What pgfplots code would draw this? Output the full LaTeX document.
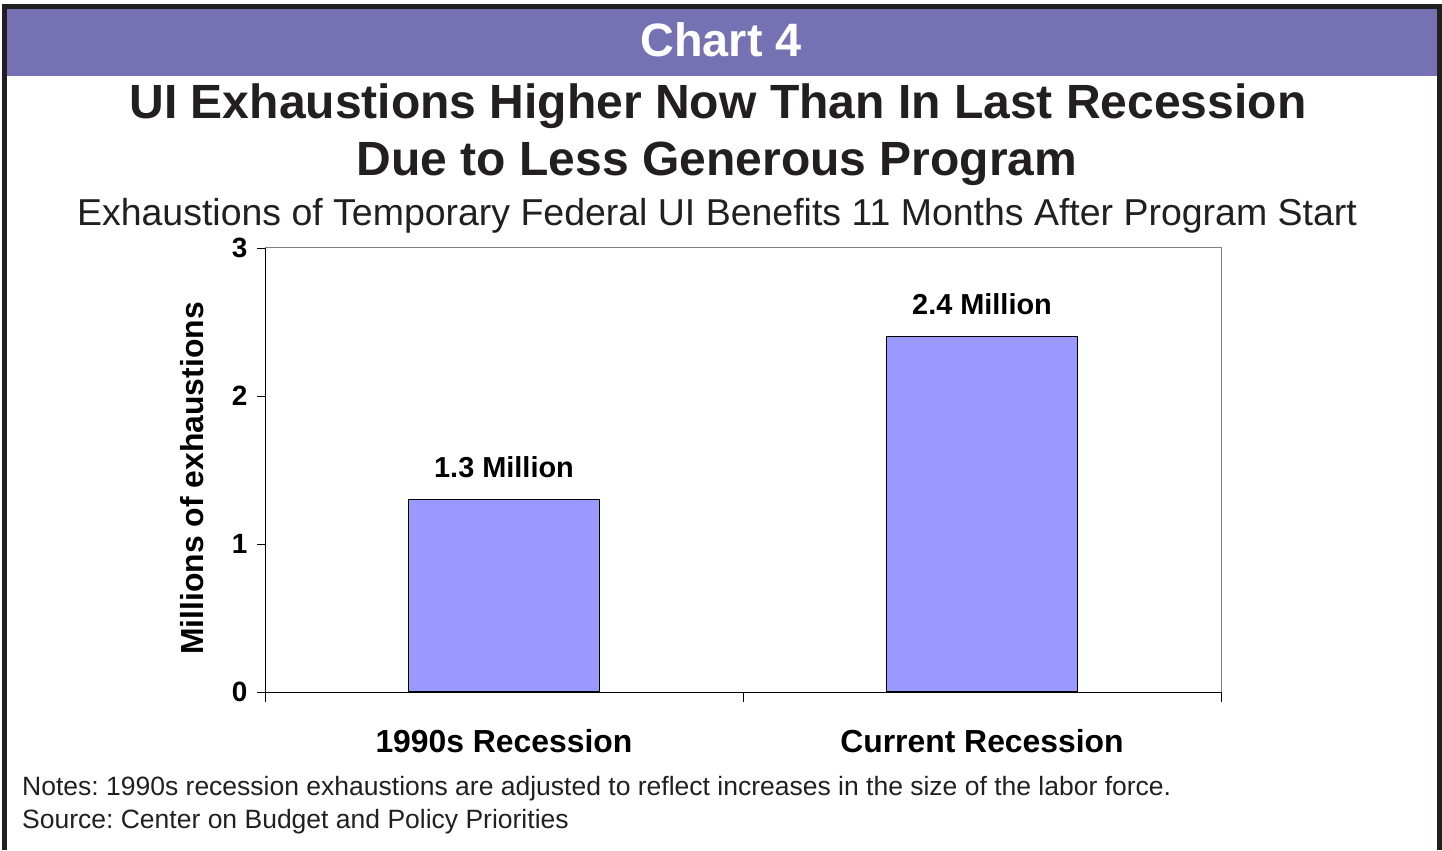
\documentclass[border=0pt]{standalone}
\usepackage{fontspec}
\setmainfont{Liberation Sans}
\usepackage{pgfplots}
\pgfplotsset{compat=1.18}

\definecolor{band}{RGB}{117,113,179}
\definecolor{barfill}{RGB}{153,153,255}
\definecolor{ink}{RGB}{35,31,32}
\definecolor{frame}{RGB}{128,128,128}

\newcommand{\fs}[1]{\fontsize{#1}{#1}\selectfont}
\frenchspacing

\begin{document}
\begin{tikzpicture}
  \begin{scope}[x=1bp,y=1bp]
  \useasboundingbox (0,0) rectangle (1442,850);
  % header band and outer frame
  \fill[band] (7,841) rectangle (1437,774);
  \draw[ink,line width=5bp] (4.5,0) -- (4.5,843.5) -- (1439.5,843.5) -- (1439.5,0);
  \node[anchor=base,text=white,font=\bfseries\fs{47}] at (721,793) {Chart 4};
  % titles
  \node[anchor=base,text=ink,font=\bfseries\fs{48.2}] at (718,731) {UI Exhaustions Higher Now Than In Last Recession};
  \node[anchor=base,text=ink,font=\bfseries\fs{48.2}] at (717,674) {Due to Less Generous Program};
  \node[anchor=base,text=ink,font=\fs{37.6}] at (717,624) {Exhaustions of Temporary Federal UI Benefits 11 Months After Program Start};
  % notes
  \node[anchor=base west,text=ink,font=\fs{26.6},inner sep=0pt] at (22,55) {Notes: 1990s recession exhaustions are adjusted to reflect increases in the size of the labor force.};
  \node[anchor=base west,text=ink,font=\fs{26.6},inner sep=0pt] at (22,22) {Source: Center on Budget and Policy Priorities};
  \end{scope}

  \begin{axis}[
    at={(265bp,158bp)}, anchor=south west,
    scale only axis, width=956bp, height=444bp,
    axis lines=left, axis line style={-, black},
    xmin=0, xmax=2, ymin=0, ymax=3,
    xtick={0.5,1.5},
    xticklabels={1990s Recession, Current Recession},
    minor xtick={0,1,2},
    ytick={0,1,2,3},
    tick align=outside,
    major tick length=8bp, minor tick length=10bp,
    major x tick style={draw=none},
    minor x tick style={black},
    ytick style={black},
    /pgf/number format/assume math mode=true,
    xticklabel style={font=\bfseries\fs{32}, text=black, anchor=base, yshift=-52bp},
    yticklabel style={font=\bfseries\fs{28}, text=black, xshift=-6bp},
    ylabel={Millions of exhaustions},
    every axis y label/.style={at={(axis description cs:0,0.481)}, rotate=90, anchor=center, yshift=73bp, font=\bfseries\fs{32}, text=black},
    ybar, bar width=0.4,
    nodes near coords={\pgfmathprintnumber[fixed,precision=1]{\pgfplotspointmeta}~Million},
    every node near coord/.append style={font=\bfseries\fs{29}, text=black, anchor=base, yshift=22bp},
  ]
    \addplot[fill=barfill, draw=black, line width=1.4bp] coordinates {(0.5,1.3) (1.5,2.4)};
  \end{axis}
  \draw[frame,line width=1bp] (265bp,602bp) -- (1221bp,602bp) -- (1221bp,158bp);
\end{tikzpicture}
\end{document}
